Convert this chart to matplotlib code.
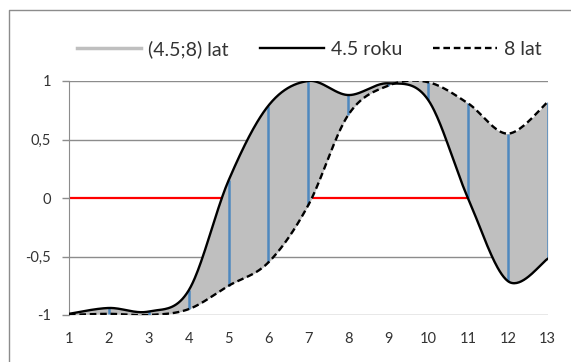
import numpy as np
import matplotlib.pyplot as plt
from matplotlib.lines import Line2D

plt.rcParams["font.family"] = ["Lato", "DejaVu Sans"]

years = [1, 2, 3, 4, 5, 6, 7, 8, 9, 10, 11, 12, 13]
cycle_45 = [-0.99, -0.94, -0.97, -0.79, 0.15, 0.79, 1.0, 0.88, 0.98, 0.84, 0.0, -0.71, -0.52]
cycle_8 = [-1.0, -0.99, -1.0, -0.95, -0.75, -0.55, -0.06, 0.71, 0.96, 0.99, 0.81, 0.55, 0.82]
y_ticks = [-1, -0.5, 0, 0.5, 1]
y_labels = ["-1", "-0,5", "0", "0,5", "1"]
labels = ["(4.5;8) lat", "4.5 roku", "8 lat"]

dash = (0, (2.8, 1.6))


def smooth(xs, ys, n=40):
    # Excel-style smoothed line (Catmull-Rom through the points)
    p = np.column_stack([xs, ys]).astype(float)
    p = np.vstack([p[0], p, p[-1]])
    t = np.linspace(0, 1, n)[:, None]
    out = []
    for i in range(1, len(p) - 2):
        p0, p1, p2, p3 = p[i - 1], p[i], p[i + 1], p[i + 2]
        c1 = p1 + (p2 - p0) / 6
        c2 = p2 - (p3 - p1) / 6
        seg = (1 - t) ** 3 * p1 + 3 * (1 - t) ** 2 * t * c1 + 3 * (1 - t) * t**2 * c2 + t**3 * p2
        out.append(seg if i == 1 else seg[1:])
    out = np.vstack(out)
    return out[:, 0], out[:, 1]


x45, y45 = smooth(years, cycle_45)
x8, y8 = smooth(years, cycle_8)

fig = plt.figure(figsize=(5.71, 3.62), dpi=100)
# chart frame: only the top and left edges fall inside the picture
fig.add_artist(Line2D([9 / 571, 9 / 571, 1.0], [0.0, 1 - 10 / 362, 1 - 10 / 362],
                      transform=fig.transFigure, color="#8c8c8c", linewidth=1))
ax = fig.add_axes([69 / 571, 1 - 315 / 362, (547.7 - 69) / 571, 234 / 362])

for y in [-1, -0.5, 0.5, 1]:
    ax.axhline(y, color="#8c8c8c", linewidth=1, zorder=0.5)
ax.plot([years[0], years[-1]], [0, 0], color="#ff0000", linewidth=1.6, zorder=1)

ax.fill_between(x45, y45, y8, color="#bfbfbf", linewidth=0, zorder=2)
lo = np.minimum(cycle_45, cycle_8)
hi = np.maximum(cycle_45, cycle_8)
ax.vlines(years, lo, hi, color="#3a7fc0", linewidth=1.8, alpha=0.85, zorder=3)

ax.plot(x45, y45, color="black", linewidth=1.7, zorder=4)
ax.plot(x8, y8, color="black", linewidth=1.7, linestyle=dash, zorder=4)

ax.set_xlim(1, 13)
ax.set_ylim(-1, 1)
ax.set_xticks(years)
ax.set_xticklabels([str(v) for v in years])
ax.set_yticks(y_ticks)
ax.set_yticklabels(y_labels)
ax.tick_params(axis="x", length=0, pad=12, labelsize=10.5, labelcolor="#333333")
ax.tick_params(axis="y", length=5, width=1, color="#8c8c8c", pad=8, labelsize=10.5, labelcolor="#333333")
for s in ["top", "right", "bottom"]:
    ax.spines[s].set_visible(False)
ax.spines["left"].set_color("#8c8c8c")
ax.patch.set_visible(False)

handles = [
    Line2D([0], [0], color="#bfbfbf", linewidth=2.5),
    Line2D([0], [0], color="black", linewidth=1.7),
    Line2D([0], [0], color="black", linewidth=1.7, linestyle=dash),
]
fig.legend(handles, labels, loc="center", bbox_to_anchor=(309.5 / 571, 1 - 49 / 362), ncol=3,
           frameon=False, fontsize=14, handlelength=3.3, handletextpad=0.35, columnspacing=1.6,
           labelcolor="#333333")

fig.savefig("out.png", dpi=100)
